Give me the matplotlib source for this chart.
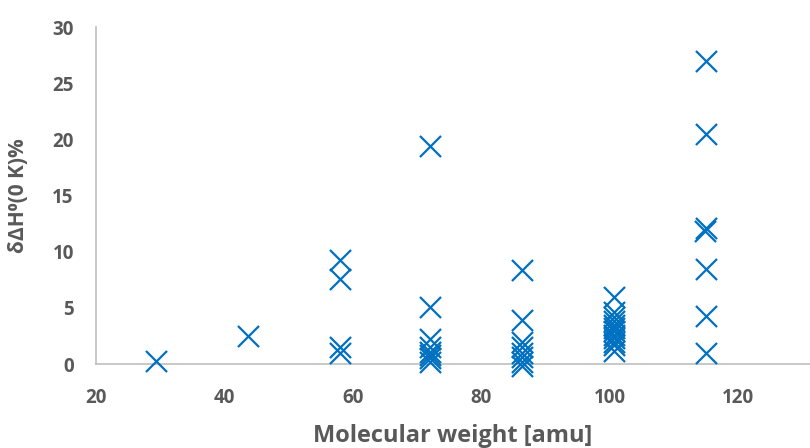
import numpy as np
import matplotlib.pyplot as plt

# molecular weight (amu) columns and the deviation in dH0(0 K) in %
mw_c2 = [29.4]
dh_c2 = [0.3]
mw_c3 = [43.6]
dh_c3 = [2.5]
mw_c4 = [58.0] * 4
dh_c4 = [9.3, 7.6, 1.5, 1.0]
mw_c5 = [72.0] * 8
dh_c5 = [19.4, 5.1, 2.2, 1.5, 1.1, 0.8, 0.5, 0.2]
mw_c6 = [86.3] * 8
dh_c6 = [8.4, 3.9, 2.0, 1.5, 1.0, 0.6, 0.2, -0.15]
mw_c7 = [100.7] * 12
dh_c7 = [6.0, 4.6, 4.2, 3.8, 3.5, 3.2, 2.9, 2.6, 2.3, 2.0, 1.7, 1.2]
mw_c8 = [115.0, 115.0, 115.0, 114.8, 115.0, 115.0, 115.0]
dh_c8 = [27.0, 20.5, 12.1, 11.8, 8.5, 4.3, 0.95]

x = np.array(mw_c2 + mw_c3 + mw_c4 + mw_c5 + mw_c6 + mw_c7 + mw_c8)
y = np.array(dh_c2 + dh_c3 + dh_c4 + dh_c5 + dh_c6 + dh_c7 + dh_c8)

plt.rcParams['font.family'] = ['Open Sans', 'DejaVu Sans']
grey = '#595959'

fig = plt.figure(figsize=(8.1, 4.48), dpi=100)
ax = fig.add_axes([0.1185, 0.1875, 0.8815, 0.752])

ax.scatter(x, y, marker='x', s=230, color='#0070C0', linewidths=1.6,
           clip_on=False, zorder=3)

ax.set_xlim(20, 131.2)
ax.set_ylim(0, 30)
ax.set_xticks([20, 40, 60, 80, 100, 120])
ax.set_yticks([0, 5, 10, 15, 20, 25, 30])

for s in ['top', 'right']:
    ax.spines[s].set_visible(False)
for s in ['left', 'bottom']:
    ax.spines[s].set_color('#BFBFBF')
    ax.spines[s].set_linewidth(1.2)

ax.tick_params(axis='both', length=0, labelsize=13.5, labelcolor=grey)
ax.tick_params(axis='x', pad=17)
ax.tick_params(axis='y', pad=16)
for lab in ax.get_xticklabels() + ax.get_yticklabels():
    lab.set_fontweight('bold')

ax.set_xlabel('Molecular weight [amu]', fontsize=17, fontweight='bold',
              color=grey, labelpad=12)
ax.set_ylabel('δΔH⁰(0 K)%', fontsize=15, fontweight='bold',
              color=grey, labelpad=17)

fig.savefig('out.png', dpi=100)
